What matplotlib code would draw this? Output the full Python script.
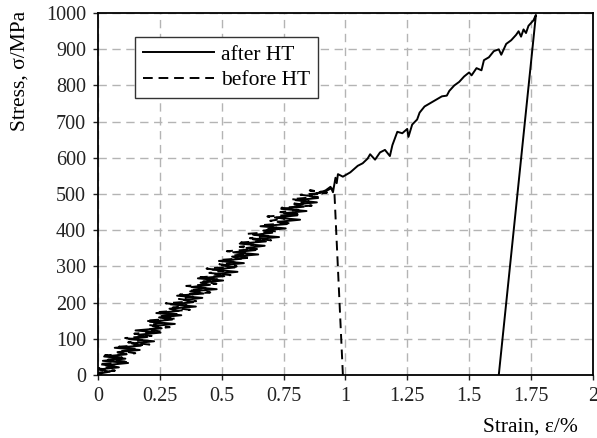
import matplotlib
matplotlib.use("Agg")
import matplotlib.pyplot as plt

# Before HT (dashed) - strain (%) and stress (MPa)
before_x = [0.016,0.000,0.069,0.000,0.073,0.003,0.126,0.040,0.098,0.028,0.151,0.097,0.155,0.085,0.208,0.122,
            0.180,0.110,0.217,0.147,0.253,0.199,0.290,0.204,0.262,0.192,0.315,0.245,0.319,0.249,0.372,0.302,
            0.360,0.274,0.397,0.327,0.385,0.331,0.454,0.368,0.442,0.357,0.479,0.425,0.483,0.414,0.536,0.450,
            0.508,0.439,0.561,0.491,0.565,0.496,0.618,0.548,0.606,0.521,0.643,0.573,0.631,0.578,0.700,0.614,
            0.688,0.603,0.725,0.671,0.729,0.660,0.782,0.696,0.754,0.685,0.807,0.737,0.811,0.742,0.864,0.794,
            0.853,0.783,0.889,0.819,0.926,0.856,0.920,0.900,0.940,0.955,0.990]
before_y = [0,6,12,18,24,30,36,42,48,54,60,66,72,78,84,90,
            96,102,108,114,120,126,132,138,144,150,156,162,168,174,180,186,
            192,198,204,210,216,222,228,234,240,246,252,258,264,270,276,282,
            288,294,300,306,312,318,324,330,336,342,348,354,360,366,372,378,
            384,390,396,402,408,414,420,426,432,438,444,450,456,462,468,474,
            480,486,492,498,504,510,505,500,515,515,0]

# After HT (solid)
after_x = [0.000,0.048,0.000,0.085,0.031,0.122,0.020,0.111,0.025,0.116,0.079,0.169,0.068,0.174,0.137,0.227,
           0.126,0.200,0.163,0.253,0.152,0.258,0.221,0.311,0.210,0.300,0.247,0.337,0.236,0.327,0.289,0.396,
           0.294,0.385,0.347,0.422,0.320,0.427,0.373,0.480,0.378,0.453,0.415,0.506,0.404,0.511,0.473,0.564,
           0.463,0.553,0.500,0.590,0.489,0.579,0.542,0.648,0.547,0.637,0.600,0.674,0.573,0.679,0.626,0.732,
           0.631,0.705,0.668,0.759,0.657,0.764,0.726,0.817,0.715,0.806,0.752,0.843,0.741,0.832,0.794,0.885,
           0.799,0.890,0.852,0.900,0.880,0.920,0.940,0.950,0.960,0.965,0.970,0.990,1.020,1.050,
           1.070,1.090,1.100,1.120,1.140,1.160,1.180,1.190,1.210,1.230,1.250,1.255,1.270,1.290,1.300,1.320,
           1.340,1.370,1.390,1.410,1.420,1.440,1.460,1.480,1.500,1.510,1.530,1.550,1.560,1.580,1.600,1.620,
           1.630,1.650,1.670,1.690,1.700,1.710,1.720,1.730,1.740,1.760,1.770,1.620]
after_y = [3,9,15,21,27,33,39,45,51,57,63,69,75,81,87,93,
           99,105,111,117,123,129,135,141,147,153,159,165,171,177,183,189,
           195,201,207,213,219,225,231,237,243,249,255,261,267,273,279,285,
           291,297,303,309,315,321,327,333,339,345,351,357,363,369,375,381,
           387,393,399,405,411,417,423,429,435,441,447,453,459,465,471,477,
           483,489,495,505,500,510,520,505,545,530,555,548,560,578,
           585,598,610,595,615,622,605,635,672,668,680,658,692,706,725,742,
           750,762,770,772,785,800,810,825,836,828,848,842,870,878,895,900,
           885,915,925,940,950,935,955,945,965,980,995,0]

x_ticks = [0, 0.25, 0.5, 0.75, 1, 1.25, 1.5, 1.75, 2]
x_tick_labels = ["0", "0.25", "0.5", "0.75", "1", "1.25", "1.5", "1.75", "2"]
y_ticks = [0, 100, 200, 300, 400, 500, 600, 700, 800, 900, 1000]

plt.rcParams['font.family'] = ['Liberation Serif', 'DejaVu Serif']
FS = 14.5
FL = 15.5

fig = plt.figure(figsize=(5.97, 4.38), dpi=100)
ax = fig.add_axes([0.164, 0.144, 0.829, 0.826])

ax.plot(after_x, after_y, color='black', lw=1.4, label='after HT')
ax.plot(before_x, before_y, color='black', lw=1.4, ls=(0, (5, 3)), label='before HT')

ax.set_xlim(0, 2)
ax.set_ylim(0, 1000)
ax.set_xticks(x_ticks)
ax.set_xticklabels(x_tick_labels)
ax.set_yticks(y_ticks)
ax.grid(True, color='#b4b4b4', ls=(0, (6, 4)), lw=1.0)
ax.set_axisbelow(True)
for s in ax.spines.values():
    s.set_linewidth(1.3)
ax.tick_params(direction='out', length=3.5, width=1.0, labelsize=FS, pad=5, colors='#222222')

fig.text(20 / 597, 1 - 71 / 438, 'Stress, σ/MPa', rotation=90, ha='center', va='center', fontsize=FL)
fig.text(578 / 597, 1 - 427 / 438, 'Strain, ε/%', ha='right', va='center', fontsize=FL)

leg = ax.legend(loc='upper left', bbox_to_anchor=(0.075, 0.934), frameon=True, fancybox=False,
                edgecolor='#333333', framealpha=1, fontsize=FL, handlelength=3.3,
                borderaxespad=0, borderpad=0.35, labelspacing=0.25, handletextpad=0.35)
leg.get_frame().set_linewidth(1.0)

fig.savefig('out.png', dpi=100)
